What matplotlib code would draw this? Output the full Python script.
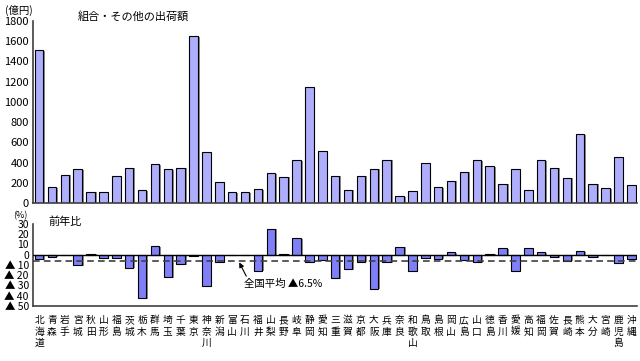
import matplotlib
matplotlib.use('Agg')
import matplotlib.pyplot as plt
import matplotlib.patheffects as pe
import numpy as np

plt.rcParams['font.family'] = ['Noto Sans CJK JP', 'DejaVu Sans']

prefs = ['北海道', '青森', '岩手', '宮城', '秋田', '山形', '福島', '茨城', '栃木', '群馬',
         '埼玉', '千葉', '東京', '神奈川', '新潟', '富山', '石川', '福井', '山梨', '長野',
         '岐阜', '静岡', '愛知', '三重', '滋賀', '京都', '大阪', '兵庫', '奈良', '和歌山',
         '鳥取', '島根', '岡山', '広島', '山口', '徳島', '香川', '愛媛', '高知', '福岡',
         '佐賀', '長崎', '熊本', '大分', '宮崎', '鹿児島', '沖縄']

# 出荷額 (億円)
shipments = [1510, 160, 280, 333, 112, 112, 270, 349, 129, 383,
             333, 349, 1650, 501, 211, 105, 105, 138, 294, 260,
             422, 1145, 517, 270, 132, 270, 339, 428, 66, 122,
             399, 155, 221, 310, 422, 366, 191, 333, 132, 422,
             349, 250, 682, 191, 148, 458, 181]

# 前年比 (%)
yoy = [-4, -2, 0, -10, 1, -3, -3, -12.5, -42.3, 8.2,
       -22, -9.2, -1, -30.2, -6.6, 0, -0.7, -15.4, 25.6, 1,
       16, -6.6, -5.6, -22.6, -13.8, -6.6, -33, -6.9, 7.9, -15.4,
       -3.3, -3.9, 2.6, -4.9, -6.9, 1, 6.6, -15.4, 6.2, 2.3,
       -2.6, -5.9, 3.3, -2.6, 0, -7.9, -4.6]

national_avg = -6.5

top_ticks = list(range(0, 1801, 200))
bottom_ticks = [30, 20, 10, 0, -10, -20, -30, -40, -50]
bottom_labels = ['30', '20', '10', '0', '▲ 10', '▲ 20', '▲ 30', '▲ 40', '▲ 50']

x = np.arange(len(prefs))
xlim = (-0.47, 46.46)
shadow = [pe.SimplePatchShadow(offset=(1.3, -0.5), shadow_rgbFace='#808080', alpha=0.9), pe.Normal()]

fig = plt.figure(figsize=(6.4, 3.61), dpi=100)

ax1 = fig.add_axes([0.0516, 0.4377, 0.944, 0.5041])
bars = ax1.bar(x, shipments, width=0.66, color='#aeaefc', edgecolor='black', linewidth=0.8)
for b in bars:
    b.set_path_effects(shadow)
ax1.set_xlim(*xlim)
ax1.set_ylim(0, 1800)
ax1.set_yticks(top_ticks)
ax1.set_xticks([])
ax1.tick_params(axis='y', labelsize=8, length=0, pad=3)
for s in ['top', 'right']:
    ax1.spines[s].set_visible(False)
ax1.spines['left'].set_color('#404040')
ax1.spines['bottom'].set_color('#404040')
ax1.spines['left'].set_linewidth(1.2)
ax1.spines['bottom'].set_linewidth(1.2)

fig.text(5 / 640, 1 - 10 / 361, '(億円)', fontsize=7.5, va='center', ha='left')
fig.text(78 / 640, 1 - 16 / 361, '組合・その他の出荷額', fontsize=8, va='center', ha='left')

ax2 = fig.add_axes([0.0516, 0.1524, 0.944, 0.2271])
bars2 = ax2.bar(x, yoy, width=0.66, color='#7f7ff8', edgecolor='black', linewidth=0.8)
for b in bars2:
    b.set_path_effects(shadow)
ax2.set_xlim(*xlim)
ax2.set_ylim(-50, 30)
ax2.set_yticks(bottom_ticks)
ax2.set_yticklabels(bottom_labels)
ax2.set_xticks([])
ax2.tick_params(axis='y', labelsize=7.5, length=0, pad=3)
for s in ['top', 'right']:
    ax2.spines[s].set_visible(False)
ax2.spines['left'].set_color('#404040')
ax2.spines['bottom'].set_color('#404040')
ax2.spines['left'].set_linewidth(1.2)
ax2.spines['bottom'].set_linewidth(1.2)
ax2.axhline(0, color='black', linewidth=1.0, zorder=3)
ax2.axhline(national_avg, color='#404040', linewidth=1.2, linestyle=(0, (4, 2.5)), zorder=4)
ax2.annotate('全国平均 ▲6.5%', xy=(15.55, national_avg - 1), xytext=(15.9, -28.5),
             fontsize=7.5, ha='left', va='center',
             arrowprops=dict(arrowstyle='-|>', color='black', lw=0.8, mutation_scale=7,
                             shrinkA=0, shrinkB=0,
                             relpos=(0.05, 1.0)))

fig.text(13 / 640, 1 - 216 / 361, '(%)', fontsize=6.5, va='center', ha='left')
fig.text(48 / 640, 1 - 222 / 361, '前年比', fontsize=8, va='center', ha='left')

for i, name in enumerate(prefs):
    ax2.text(i, -0.11, '\n'.join(name), transform=ax2.get_xaxis_transform(),
             ha='center', va='top', fontsize=7, linespacing=1.2)

fig.savefig('out.png', dpi=100)
